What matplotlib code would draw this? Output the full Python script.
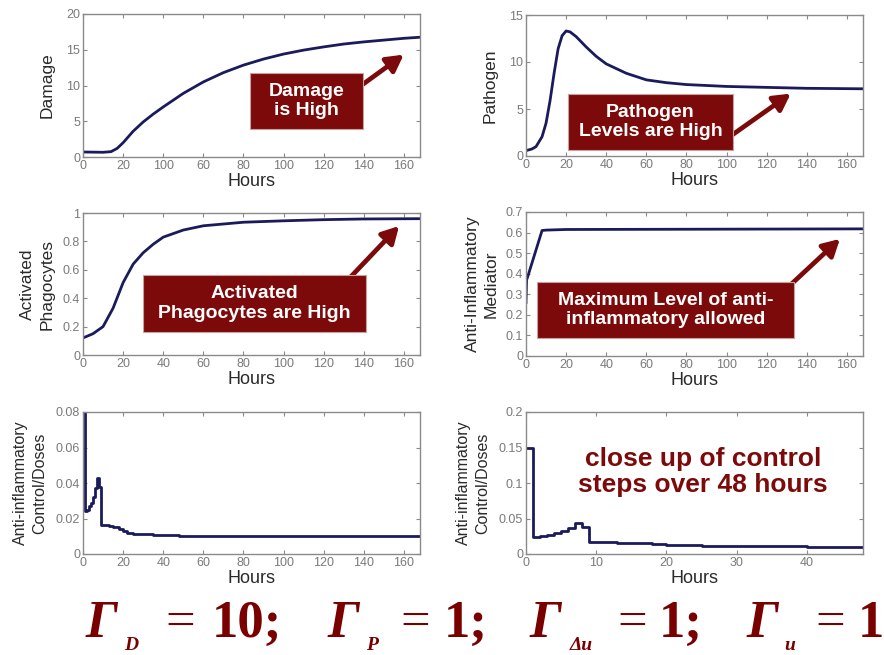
import matplotlib
matplotlib.use("Agg")
import matplotlib.pyplot as plt
from matplotlib.patches import Rectangle, FancyArrowPatch

plt.rcParams['font.family'] = ['Liberation Sans', 'DejaVu Sans']

# ---- data (hours) ----
damage_t = [0, 5, 10, 14, 17, 20, 25, 30, 35, 40, 50, 60, 70, 80, 90, 100,
            110, 120, 130, 140, 150, 160, 168]
damage_v = [0.7, 0.68, 0.66, 0.75, 1.2, 2.0, 3.6, 4.9, 6.0, 7.0, 8.9, 10.5,
            11.8, 12.85, 13.7, 14.4, 14.95, 15.4, 15.8, 16.1, 16.35, 16.6, 16.75]

pathogen_t = [0, 3, 5, 8, 10, 12, 14, 16, 18, 20, 22, 25, 30, 35, 40, 50, 60,
              70, 80, 100, 120, 140, 168]
pathogen_v = [0.57, 0.75, 1.0, 2.05, 3.5, 5.9, 8.8, 11.4, 12.8, 13.3, 13.2,
              12.7, 11.6, 10.6, 9.8, 8.8, 8.1, 7.8, 7.6, 7.4, 7.3, 7.2, 7.15]

phago_t = [0, 5, 10, 15, 20, 25, 30, 35, 40, 50, 60, 80, 100, 120, 140, 168]
phago_v = [0.12, 0.15, 0.20, 0.33, 0.51, 0.64, 0.72, 0.78, 0.83, 0.88, 0.91,
           0.935, 0.945, 0.953, 0.958, 0.96]

mediator_t = [0, 0.3, 1, 8, 10, 20, 168]
mediator_v = [0.26, 0.37, 0.39, 0.61, 0.612, 0.615, 0.618]

dose_t = [0, 1, 2, 3, 4, 5, 6, 7, 8, 9, 13, 15, 18, 20, 22, 25, 30, 35, 40,
          48, 168]
dose_v = [0.15, 0.024, 0.025, 0.027, 0.029, 0.032, 0.037, 0.043, 0.038,
          0.0165, 0.016, 0.015, 0.014, 0.013, 0.012, 0.0115, 0.011, 0.0108,
          0.0105, 0.0102, 0.0100]

# tick labels
x_ticks_full = [0, 20, 40, 60, 80, 100, 120, 140, 160]
x_labels_damage = ['0', '20', '100', '60', '80', '100', '120', '140', '160']
x_labels_full = [str(v) for v in x_ticks_full]
x_ticks_zoom = [0, 10, 20, 30, 40]

# weighting parameters shown under the plots: (subscript, value, separator)
gamma_subs = ['D', 'P', 'Δu', 'u']
gamma_vals = ['10', '1', '1', '1']
gamma_seps = [';', ';', ';', '']

LINE = '#1b1b5c'
FRAME = '#8a8a8a'
TICKC = '#7a7a7a'
LABELC = '#2a2a2a'
RED = '#7d0a0a'
FORMULA = '#7a0000'

W, H = 884, 655
fig = plt.figure(figsize=(W / 100, H / 100), dpi=100)
fig.patch.set_facecolor('white')


def px_axes(x0, y0, x1, y1):
    return [x0 / W, 1 - y1 / H, (x1 - x0) / W, (y1 - y0) / H]


def fpt(x, y):
    return (x / W, 1 - y / H)


def style(ax, xlim, ylim, yticks, yticklabels, xticks, xticklabels, ylabel,
          ylsize=12.5, ylpad=7):
    ax.set_xlim(*xlim)
    ax.set_ylim(*ylim)
    ax.set_yticks(yticks)
    ax.set_yticklabels(yticklabels)
    ax.set_xticks(xticks)
    ax.set_xticklabels(xticklabels)
    for s in ax.spines.values():
        s.set_color(FRAME)
        s.set_linewidth(1.0)
    ax.tick_params(direction='in', top=True, right=True, length=3,
                   color=FRAME, labelcolor=TICKC, labelsize=9, pad=2)
    ax.set_xlabel('Hours', fontsize=13, color=LABELC, labelpad=1)
    ax.set_ylabel(ylabel, fontsize=ylsize, color=LABELC, labelpad=ylpad,
                  linespacing=1.35)


# row 1
ax1 = fig.add_axes(px_axes(83, 14, 420, 157))
ax1.plot(damage_t, damage_v, color=LINE, lw=2)
style(ax1, (0, 168), (0, 20), [0, 5, 10, 15, 20], ['0', '5', '10', '15', '20'],
      x_ticks_full, x_labels_damage, 'Damage', 12.5, 8)

ax2 = fig.add_axes(px_axes(526, 15, 863, 156))
ax2.plot(pathogen_t, pathogen_v, color=LINE, lw=2)
style(ax2, (0, 168), (0, 15), [0, 5, 10, 15], ['0', '5', '10', '15'],
      x_ticks_full, x_labels_full, 'Pathogen', 12.5, 8)

# row 2
ax3 = fig.add_axes(px_axes(83, 213, 420, 355))
ax3.plot(phago_t, phago_v, color=LINE, lw=2)
style(ax3, (0, 168), (0, 1), [0, 0.2, 0.4, 0.6, 0.8, 1],
      ['0', '0.2', '0.4', '0.6', '0.8', '1'],
      x_ticks_full, x_labels_full, 'Activated\nPhagocytes', 12.5, 6)

ax4 = fig.add_axes(px_axes(526, 212, 863, 356))
ax4.plot(mediator_t, mediator_v, color=LINE, lw=2)
style(ax4, (0, 168), (0, 0.7), [0, 0.1, 0.2, 0.3, 0.4, 0.5, 0.6, 0.7],
      ['0', '0.1', '0.2', '0.3', '0.4', '0.5', '0.6', '0.7'],
      x_ticks_full, x_labels_full, 'Anti-Inflammatory\nMediator', 12.5, 5)

# row 3
ax5 = fig.add_axes(px_axes(83, 412, 420, 554))
ax5.plot(dose_t, dose_v, color=LINE, lw=2, drawstyle='steps-post')
style(ax5, (0, 168), (0, 0.08), [0, 0.02, 0.04, 0.06, 0.08],
      ['0', '0.02', '0.04', '0.06', '0.08'],
      x_ticks_full, x_labels_full, 'Anti-inflammatory\nControl/Doses', 11.5, 6)

ax6 = fig.add_axes(px_axes(526, 412, 863, 554))
ax6.plot(dose_t, dose_v, color=LINE, lw=2, drawstyle='steps-post')
style(ax6, (0, 48), (0, 0.2), [0, 0.05, 0.1, 0.15, 0.2],
      ['0', '0.05', '0.1', '0.15', '0.2'],
      x_ticks_zoom, [str(v) for v in x_ticks_zoom],
      'Anti-inflammatory\nControl/Doses', 11.5, 6)

# ---- callout boxes with arrows ----
callouts = [
    ((250, 73, 363, 129), 'Damage\nis High', (355, 90), (406, 53)),
    ((568, 94, 733, 150), 'Pathogen\nLevels are High', (725, 140), (793, 92)),
    ((143, 275, 366, 332), 'Activated\nPhagocytes are High', (343, 285), (401, 224)),
    ((537, 282, 794, 338), 'Maximum Level of anti-\ninflammatory allowed',
     (785, 290), (842, 237)),
]
for (x0, y0, x1, y1), label, tail, tip in callouts:
    arr = FancyArrowPatch(fpt(*tail), fpt(*tip), transform=fig.transFigure,
                          arrowstyle='-|>,head_length=10,head_width=5.5',
                          color=RED, lw=3.4, mutation_scale=1, zorder=5)
    fig.add_artist(arr)
    rect = Rectangle(fpt(x0, y1), (x1 - x0) / W, (y1 - y0) / H,
                     transform=fig.transFigure, facecolor=RED,
                     edgecolor='#c9a0a0', lw=0.8, zorder=6)
    fig.add_artist(rect)
    cx, cy = fpt((x0 + x1) / 2, (y0 + y1) / 2)
    fig.text(cx, cy, label, ha='center', va='center', color='white',
             fontsize=14, fontweight='bold', linespacing=1.2, zorder=7)

cx, cy = fpt(703, 472)
fig.text(cx, cy, 'close up of control\nsteps over 48 hours', ha='center',
         va='center', color=RED, fontsize=19, fontweight='bold',
         linespacing=1.15)

# ---- weighting parameters line ----
SERIF = 'Liberation Serif'
term_gamma_x = [86, 328, 530, 747]
term_sub_x = [124, 366, 570, 784]
term_eq_x = [165, 400, 617, 815]
term_val_x = [212, 444, 659, 858]
base_main = 637
base_sub = 650
for gx, sx, ex, vx, sub, val, sep in zip(term_gamma_x, term_sub_x, term_eq_x,
                                          term_val_x, gamma_subs, gamma_vals,
                                          gamma_seps):
    fig.text(*fpt(gx, base_main), 'Γ', ha='left', va='baseline',
             color=FORMULA, fontsize=38, family=SERIF, style='italic',
             weight='bold')
    fig.text(*fpt(sx, base_sub), sub, ha='left', va='baseline',
             color=FORMULA, fontsize=14, family=SERIF, style='italic',
             weight='bold')
    fig.text(*fpt(ex, base_main), '=', ha='left', va='baseline',
             color=FORMULA, fontsize=38, family=SERIF)
    fig.text(*fpt(vx, base_main), val + sep, ha='left', va='baseline',
             color=FORMULA, fontsize=38, family=SERIF, weight='bold')

fig.savefig('out.png', dpi=100)
